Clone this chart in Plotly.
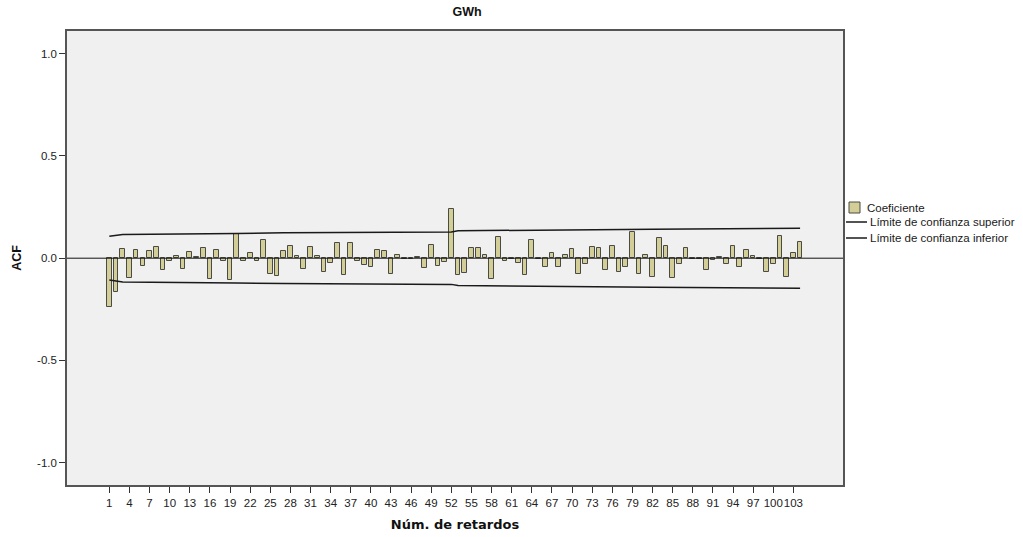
import plotly.graph_objects as go

# Autocorrelation function of the GWh series, lags 1..104
lags = list(range(1, 105))
acf = [
    -0.241, -0.166, 0.046, -0.095, 0.041, -0.039, 0.036, 0.057, -0.059, -0.013,
    0.010, -0.052, 0.031, 0.004, 0.049, -0.104, 0.041, -0.015, -0.108, 0.116,
    -0.013, 0.026, -0.015, 0.087, -0.078, -0.089, 0.033, 0.059, 0.010, -0.054,
    0.055, 0.011, -0.067, -0.023, 0.072, -0.081, 0.072, -0.016, -0.033, -0.044,
    0.041, 0.033, -0.075, 0.018, -0.006, -0.006, 0.006, -0.046, 0.064, -0.039,
    -0.018, 0.240, -0.083, -0.073, 0.051, 0.051, 0.016, -0.103, 0.104, -0.013,
    -0.005, -0.024, -0.081, 0.088, -0.003, -0.044, 0.026, -0.044, 0.015, 0.047,
    -0.077, -0.028, 0.055, 0.052, -0.057, 0.059, -0.068, -0.044, 0.127, -0.078,
    0.015, -0.093, 0.101, 0.060, -0.098, -0.029, 0.052, -0.002, -0.006, -0.057,
    -0.011, 0.005, -0.028, 0.059, -0.041, 0.041, 0.010, -0.005, -0.065, -0.026,
    0.109, -0.090, 0.024, 0.080,
]

# Confidence limits (upper; the lower one mirrors it), read at the lags where the slope changes
limit_lags = [1, 2, 3, 20, 27, 52, 53, 82, 104]
limit_upper = [0.107, 0.113, 0.116, 0.121, 0.124, 0.128, 0.134, 0.142, 0.147]
limit_lower = [-v for v in limit_upper]

tick_vals = list(range(1, 104, 3))
tick_text = [str(v) for v in tick_vals]
y_ticks = [1.0, 0.5, 0.0, -0.5, -1.0]
y_tick_text = ["1.0", "0.5", "0.0", "-0.5", "-1.0"]

series_names = ["Coeficiente", "Límite de confianza superior", "Límite de confianza inferior"]

BAR_FILL = "#D3CE97"
BAR_EDGE = "#4B4B45"
FONT = "Liberation Sans, Arial, sans-serif"
TITLE_FONT = "DejaVu Sans, sans-serif"

fig = go.Figure()
fig.add_trace(go.Bar(
    x=lags, y=acf, width=0.7, name=series_names[0],
    marker=dict(color=BAR_FILL, line=dict(color=BAR_EDGE, width=1)),
    showlegend=False,
))
fig.add_trace(go.Scatter(
    x=limit_lags, y=limit_upper, mode="lines", name=series_names[1],
    line=dict(color="#1a1a1a", width=1.5), showlegend=False,
))
fig.add_trace(go.Scatter(
    x=limit_lags, y=limit_lower, mode="lines", name=series_names[2],
    line=dict(color="#1a1a1a", width=1.5), showlegend=False,
))

# plot area in pixels
L, R, T, B = 67, 843, 31, 485
W, H = 1023, 537


def px(xp):
    return (xp - L) / (R - L)


def py(yp):
    return (B - yp) / (B - T)


shapes = [
    # reference line at zero, drawn over the bars
    dict(type="line", xref="paper", yref="y", x0=0, x1=1, y0=0, y1=0,
         line=dict(color="#111111", width=1), layer="above"),
    # legend swatch for the bars
    dict(type="rect", xref="paper", yref="paper",
         x0=px(849), x1=px(860), y0=py(213), y1=py(202),
         fillcolor=BAR_FILL, line=dict(color=BAR_EDGE, width=1)),
    # legend keys for the limit lines
    dict(type="line", xref="paper", yref="paper",
         x0=px(846), x1=px(867), y0=py(222), y1=py(222),
         line=dict(color="#1a1a1a", width=1.5)),
    dict(type="line", xref="paper", yref="paper",
         x0=px(846), x1=px(867), y0=py(238), y1=py(238),
         line=dict(color="#1a1a1a", width=1.5)),
]

annotations = []
for name, ypix, xpix in zip(series_names, [208, 222, 238], [865, 868, 868]):
    annotations.append(dict(
        text=name, xref="paper", yref="paper", x=px(xpix), y=py(ypix),
        xanchor="left", yanchor="middle", showarrow=False,
        font=dict(family=FONT, size=11.5, color="#1a1a1a"),
    ))

fig.update_layout(
    width=W, height=H,
    margin=dict(l=L, r=W - R, t=T, b=H - B, pad=0),
    paper_bgcolor="white",
    plot_bgcolor="#F0F0F0",
    bargap=0,
    font=dict(family=FONT, size=11.5, color="#222222"),
    title=dict(text="<b>GWh</b>", xref="paper", x=px(467), xanchor="center",
               y=1 - 12 / H, yanchor="middle",
               font=dict(family=FONT, size=12.5, color="#111111")),
    shapes=shapes,
    annotations=annotations,
    showlegend=False,
)

fig.update_xaxes(
    range=[-5.31, 110.4], automargin=False,
    tickmode="array", tickvals=tick_vals, ticktext=tick_text,
    ticks="outside", ticklen=6, tickwidth=1, tickcolor="#333333",
    showline=True, linecolor="#555555", linewidth=1.5, mirror=True,
    showgrid=False, zeroline=False,
    tickfont=dict(family=FONT, size=11.5, color="#222222"),
    tickangle=0,
    title=dict(text="<b>Núm. de retardos</b>", standoff=12,
               font=dict(family=TITLE_FONT, size=13, color="#111111")),
)
fig.update_yaxes(
    range=[-1.109, 1.111], automargin=False,
    tickmode="array", tickvals=y_ticks, ticktext=y_tick_text,
    ticks="outside", ticklen=6, tickwidth=1, tickcolor="#333333",
    showline=True, linecolor="#555555", linewidth=1.5, mirror=True,
    showgrid=False, zeroline=False,
    tickfont=dict(family=FONT, size=11.5, color="#222222"),
    title=dict(text="<b>ACF</b>", standoff=13,
               font=dict(family=FONT, size=12.5, color="#111111")),
)

fig.write_html("out.html")
